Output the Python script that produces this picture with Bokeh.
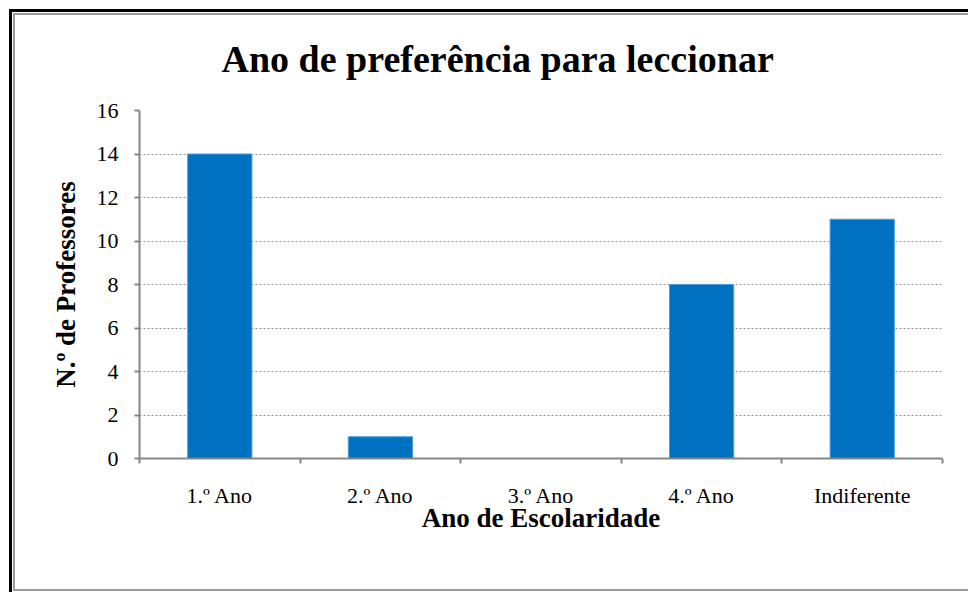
from bokeh.plotting import figure
from bokeh.models import FixedTicker
from bokeh.embed import file_html
from bokeh.resources import INLINE
import numpy as np

categories = ["1.º Ano", "2.º Ano", "3.º Ano", "4.º Ano", "Indiferente"]
values = [14, 1, 0, 8, 11]
y_ticks = [0, 2, 4, 6, 8, 10, 12, 14, 16]

xc = np.arange(len(categories)) + 0.5

p = figure(width=968, height=592, output_backend="svg", toolbar_location=None,
           x_range=(0, len(categories)), y_range=(0, 16),
           min_border_left=139, min_border_right=26, min_border_top=110, min_border_bottom=134)

p.vbar(x=xc, top=values, width=0.4, fill_color="#0070C0", line_color="#4f9be0", line_width=1)

FONT = "Liberation Serif"
p.title.text = "Ano de preferência para leccionar"
p.title.text_font = FONT
p.title.text_font_size = "38px"
p.title.text_font_style = "bold"
p.title.text_color = "black"
p.title.align = "left"
p.title.offset = 82
p.title.standoff = 62

p.outline_line_color = None
p.background_fill_color = "white"
p.border_fill_color = None

# outer chart frame drawn as the element's background (black + gray double rule)
g_black = "linear-gradient(#000000,#000000)"
g_gray = "linear-gradient(#9a9a9a,#9a9a9a)"
p.styles = {
    "background-color": "white",
    "background-image": ", ".join([g_black, g_black, g_gray, g_gray, g_gray]),
    "background-repeat": "no-repeat",
    "background-position": "9px 9px, 9px 9px, 13px 13px, 13px 13px, 13px 589px",
    "background-size": "3px 100%, 100% 3px, 2px 578px, 100% 2px, 100% 2px",
}

# y axis
p.yaxis.ticker = FixedTicker(ticks=y_ticks)
p.yaxis.axis_label = "N.º de Professores"
p.yaxis.axis_label_text_font = FONT
p.yaxis.axis_label_text_font_size = "27px"
p.yaxis.axis_label_text_font_style = "bold"
p.yaxis.axis_label_text_color = "black"
p.yaxis.axis_label_standoff = 13
p.yaxis.major_label_text_font = FONT
p.yaxis.major_label_text_font_size = "22px"
p.yaxis.major_label_text_color = "black"
p.yaxis.major_label_standoff = 16
p.yaxis.axis_line_color = "#868686"
p.yaxis.axis_line_width = 2
p.yaxis.major_tick_line_color = "#868686"
p.yaxis.major_tick_line_width = 2
p.yaxis.major_tick_in = 0
p.yaxis.major_tick_out = 5
p.yaxis.minor_tick_line_color = None

# x axis
p.xaxis.ticker = FixedTicker(ticks=list(xc), minor_ticks=list(range(len(categories) + 1)))
p.xaxis.major_label_overrides = {float(x): c for x, c in zip(xc, categories)}
p.xaxis.major_label_text_font = FONT
p.xaxis.major_label_text_font_size = "22px"
p.xaxis.major_label_text_color = "black"
p.xaxis.major_label_standoff = 19
p.xaxis.major_tick_in = 0
p.xaxis.major_tick_out = 0
p.xaxis.minor_tick_in = 0
p.xaxis.minor_tick_out = 5
p.xaxis.minor_tick_line_color = "#868686"
p.xaxis.minor_tick_line_width = 2
p.xaxis.axis_line_color = "#868686"
p.xaxis.axis_line_width = 2
p.xaxis.axis_label = "Ano de Escolaridade"
p.xaxis.axis_label_text_font = FONT
p.xaxis.axis_label_text_font_size = "27px"
p.xaxis.axis_label_text_font_style = "bold"
p.xaxis.axis_label_text_color = "black"
p.xaxis.axis_label_standoff = -8

p.xgrid.visible = False
p.ygrid.ticker = FixedTicker(ticks=y_ticks)
p.ygrid.grid_line_color = "#969696"
p.ygrid.grid_line_dash = "2 2"
p.ygrid.grid_line_width = 1.2

open("out.html", "w").write(file_html(p, INLINE))
